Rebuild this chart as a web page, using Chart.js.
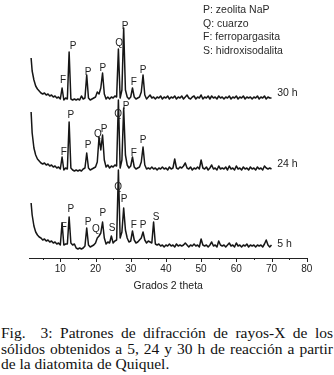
<!DOCTYPE html>
<html>
<head>
<meta charset="utf-8">
<script src="https://cdn.jsdelivr.net/npm/chart.js@4.4.1/dist/chart.umd.min.js"></script>
<style>
html, body { margin: 0; padding: 0; background: #fff; }
body { width: 334px; height: 375px; position: relative; overflow: hidden; }
#wrap { position: absolute; left: 0; top: 0; width: 334px; height: 300px; }
#legend { position: absolute; left: 203px; top: 3px; font: 10.5px/13.6px "Liberation Sans", Arial, sans-serif; color: #2a2a2a; }
#caption { position: absolute; left: 1px; top: 325px; width: 332px; font: 15.5px/15.5px "Liberation Serif", "DejaVu Serif", serif; color: #111; }
#caption .j { text-align: justify; text-align-last: justify; }
</style>
</head>
<body>
<div id="wrap"><canvas id="xrd"></canvas></div>
<div id="legend"></div>
<div id="caption">
  <div class="j">Fig.&nbsp; 3: Patrones de difracción de rayos-X de los</div>
  <div class="j">sólidos obtenidos a 5, 24 y 30 h de reacción a partir</div>
  <div>de la diatomita de Quiquel.</div>
</div>
<script>
// 2 theta grid (deg)
const theta = [
  1.7, 2, 2.5, 3, 3.5, 4, 4.5, 5, 5.5, 6,
  6.5, 7, 7.5, 8, 8.5, 9, 9.5, 10, 10.5, 11,
  11.5, 12, 12.5, 13, 13.5, 14, 14.5, 15, 15.5, 16,
  16.5, 17, 17.5, 18, 18.5, 19, 19.5, 20, 20.5, 21,
  21.5, 22, 22.5, 23, 23.5, 24, 24.5, 25, 25.5, 26,
  26.5, 27, 27.5, 28, 28.5, 29, 29.5, 30, 30.5, 31,
  31.5, 32, 32.5, 33, 33.5, 34, 34.5, 35, 35.5, 36,
  36.5, 37, 37.5, 38, 38.5, 39, 39.5, 40, 40.5, 41,
  41.5, 42, 42.5, 43, 43.5, 44, 44.5, 45, 45.5, 46,
  46.5, 47, 47.5, 48, 48.5, 49, 49.5, 50, 50.5, 51,
  51.5, 52, 52.5, 53, 53.5, 54, 54.5, 55, 55.5, 56,
  56.5, 57, 57.5, 58, 58.5, 59, 59.5, 60, 60.5, 61,
  61.5, 62, 62.5, 63, 63.5, 64, 64.5, 65, 65.5, 66,
  66.5, 67, 67.5, 68, 68.5, 69, 69.5, 70
];

// intensities (a.u.)
const int5h = [
  55, 43, 32, 26, 23, 21, 20, 18, 19, 17,
  18, 16, 17, 15, 16, 14, 15, 13, 35, 13,
  14, 14, 41, 15, 13, 14, 10, 9, 10, 9,
  10, 12, 30, 13, 11, 12, 13, 15, 20, 22,
  25, 36, 20, 14, 16, 15, 22, 15, 17, 18,
  88, 20, 26, 50, 28, 20, 16, 17, 27, 18,
  15, 16, 18, 20, 26, 18, 15, 17, 16, 15,
  36, 14, 13, 14, 12, 13, 11, 13, 12, 14,
  12, 13, 11, 14, 12, 13, 12, 13, 15, 13,
  11, 13, 12, 14, 12, 13, 11, 19, 13, 12,
  13, 11, 13, 16, 12, 13, 11, 17, 13, 12,
  13, 11, 13, 15, 12, 13, 11, 15, 12, 13,
  11, 13, 12, 14, 11, 13, 12, 13, 11, 13,
  12, 13, 11, 14, 18, 13, 11, 13
];
const int24h = [
  69, 48, 33, 26, 22, 20, 18, 17, 18, 16,
  17, 15, 16, 14, 15, 13, 14, 12, 24, 11,
  13, 12, 59, 13, 11, 10, 11, 10, 11, 10,
  12, 13, 28, 13, 11, 12, 13, 14, 19, 44,
  31, 46, 21, 14, 16, 13, 15, 14, 16, 15,
  81, 13, 21, 73, 26, 16, 13, 15, 24, 14,
  12, 13, 14, 19, 34, 16, 12, 13, 12, 14,
  12, 13, 11, 13, 12, 14, 12, 13, 11, 14,
  12, 13, 22, 13, 12, 14, 13, 15, 18, 13,
  12, 14, 11, 13, 12, 14, 12, 21, 13, 12,
  14, 11, 13, 16, 12, 13, 11, 15, 12, 13,
  12, 14, 11, 15, 12, 13, 11, 15, 12, 13,
  11, 14, 12, 13, 11, 14, 12, 13, 11, 14,
  12, 13, 11, 15, 13, 12, 13, 12
];
const int30h = [
  53, 40, 31, 25, 22, 20, 18, 17, 18, 16,
  17, 15, 16, 14, 15, 13, 14, 12, 23, 11,
  13, 12, 59, 12, 11, 12, 11, 12, 11, 15,
  12, 13, 36, 13, 11, 12, 13, 14, 19, 17,
  23, 38, 17, 12, 14, 12, 14, 13, 15, 14,
  62, 13, 21, 83, 21, 14, 12, 14, 23, 14,
  12, 13, 14, 19, 36, 16, 12, 14, 16, 13,
  14, 12, 14, 13, 15, 12, 14, 13, 15, 12,
  14, 13, 15, 12, 14, 13, 15, 12, 14, 16,
  13, 12, 14, 15, 12, 14, 13, 16, 12, 14,
  13, 15, 12, 15, 13, 14, 12, 15, 13, 14,
  12, 14, 13, 15, 12, 14, 13, 15, 12, 14,
  13, 15, 12, 14, 13, 14, 12, 14, 13, 15,
  12, 14, 13, 15, 12, 14, 13, 13
];

const seriesNames = ['5 h', '24 h', '30 h'];
const offsets = [0, 77, 147];   // vertical stacking of the patterns

// phase marks: [letter, 2 theta, level]
const marks5h = [['F', 11.0, 31], ['P', 13.0, 49], ['P', 17.9, 36], ['Q', 20.1, 29], ['P', 22.1, 45],
  ['S', 24.7, 30], ['Q', 26.4, 71], ['P', 28.1, 59], ['F', 30.9, 33], ['P', 33.5, 33], ['S', 37.2, 41]];
const marks24h = [['F', 11.0, 29], ['P', 13.0, 66], ['P', 17.9, 36], ['Q', 20.7, 47], ['P', 22.4, 52],
  ['Q', 26.4, 67], ['P', 28.7, 75], ['F', 30.9, 28], ['P', 33.5, 41]];
const marks30h = [['F', 10.8, 31], ['P', 13.6, 65], ['P', 17.9, 39], ['P', 22.1, 43],
  ['Q', 26.7, 68], ['P', 28.4, 85], ['F', 30.9, 29], ['P', 33.5, 41]];

const legendItems = ['P: zeolita NaP', 'Q: cuarzo', 'F: ferropargasita', 'S: hidroxisodalita'];
const xTicks = [5, 10, 15, 20, 25, 30, 35, 40, 45, 50, 55, 60, 65, 70, 75, 80];

document.getElementById('legend').innerHTML = legendItems.map(s => '<div>' + s + '</div>').join('');

const traces = [int5h, int24h, int30h];
const marks = [marks5h, marks24h, marks30h];
const sans = '"Liberation Sans", Arial, sans-serif';

const decor = {
  id: 'decor',
  afterDraw(chart) {
    const { ctx, scales: { x, y } } = chart;
    ctx.save();
    // tick marks below the axis line
    ctx.strokeStyle = '#222';
    ctx.lineWidth = 1;
    x.ticks.forEach(t => {
      const px = Math.round(x.getPixelForValue(t.value)) + 0.5;
      const len = t.value % 10 === 0 ? 4 : 2;
      ctx.beginPath();
      ctx.moveTo(px, x.top);
      ctx.lineTo(px, x.top + len);
      ctx.stroke();
    });
    // phase letters
    ctx.fillStyle = '#222';
    ctx.font = '10px ' + sans;
    ctx.textAlign = 'center';
    ctx.textBaseline = 'middle';
    marks.forEach((list, k) => {
      list.forEach(([txt, tx, lv]) => {
        ctx.fillText(txt, x.getPixelForValue(tx), y.getPixelForValue(lv + offsets[k]));
      });
    });
    // pattern names at the right end
    const nameLevels = [14, 17, 18];
    ctx.font = '10.5px ' + sans;
    ctx.textAlign = 'left';
    seriesNames.forEach((n, k) => {
      ctx.fillText(n, x.getPixelForValue(71.6), y.getPixelForValue(nameLevels[k] + offsets[k]));
    });
    ctx.restore();
  }
};

new Chart('xrd', {
  type: 'line',
  data: {
    datasets: traces.map((vals, k) => ({
      label: seriesNames[k],
      data: theta.map((t, i) => ({ x: t, y: vals[i] + offsets[k] })),
      borderColor: '#161616',
      borderWidth: 1.5,
      borderJoinStyle: 'round',
      pointRadius: 0,
      tension: 0,
      fill: false,
      clip: false
    }))
  },
  options: {
    responsive: true,
    maintainAspectRatio: false,
    animation: false,
    layout: { padding: { left: 29.7, right: 27.3, top: 8, bottom: 7.4 } },
    plugins: { legend: { display: false }, tooltip: { enabled: false } },
    scales: {
      x: {
        type: 'linear',
        min: 1.3,
        max: 80,
        afterBuildTicks: ax => { ax.ticks = xTicks.map(v => ({ value: v })); },
        ticks: {
          callback: v => (v % 10 === 0 ? String(v) : ''),
          font: { family: sans, size: 10 },
          color: '#222',
          padding: 5,
          maxRotation: 0,
          autoSkip: false
        },
        grid: { display: true, drawOnChartArea: false, drawTicks: false },
        border: { display: true, color: '#222', width: 1 },
        title: {
          display: true,
          text: 'Grados 2 theta',
          font: { family: sans, size: 10.5 },
          color: '#222',
          padding: { top: 0, bottom: 0 }
        }
      },
      y: { display: false, min: 0, max: 250 }
    }
  },
  plugins: [decor]
});
</script>
</body>
</html>
